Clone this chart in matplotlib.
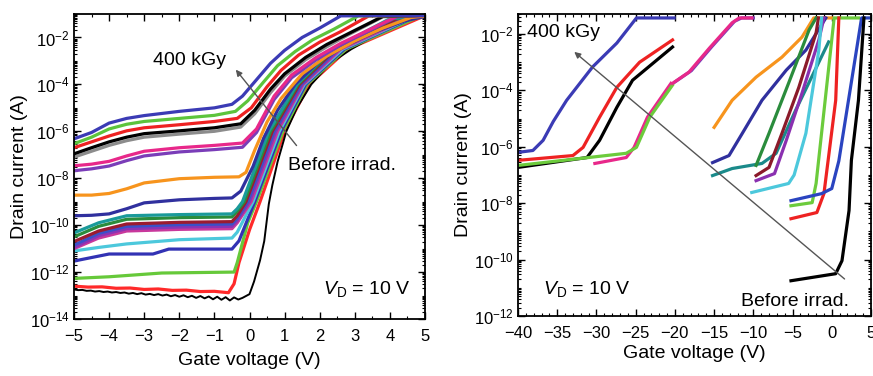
import matplotlib
matplotlib.use("Agg")
import matplotlib.pyplot as plt
import numpy as np
from matplotlib.ticker import LogLocator, MultipleLocator, NullFormatter

plt.rcParams['font.family'] = ['Liberation Sans', 'DejaVu Sans']
plt.rcParams['mathtext.fontset'] = 'custom'
plt.rcParams['mathtext.rm'] = 'Liberation Sans'
plt.rcParams['mathtext.it'] = 'Liberation Sans:italic'

# ---- left panel: log10(drain current) vs gate voltage ----
a_blue_x = [-5, -4.5, -4, -3.5, -3, -2, -1, -0.5, -0.2, 0.2, 0.6, 1.0, 1.5, 2.0, 2.6, 5]
a_blue_y = [-6.32, -6.05, -5.65, -5.45, -5.33, -5.15, -5.0, -4.85, -4.5, -3.8, -3.1, -2.55, -2.0, -1.6, -1.08, -1.06]
a_green_x = [-5, -4.5, -4, -3.5, -3, -2, -1, -0.4, -0.05, 0.4, 0.8, 1.3, 1.8, 2.4, 3.1, 5]
a_green_y = [-6.53, -6.25, -5.9, -5.7, -5.58, -5.45, -5.32, -5.15, -4.7, -3.9, -3.2, -2.6, -2.1, -1.65, -1.08, -1.06]
a_red_x = [-5, -4.5, -4, -3.5, -3, -2, -1, -0.35, 0.05, 0.5, 0.9, 1.4, 2.0, 2.6, 3.4, 5]
a_red_y = [-6.7, -6.45, -6.2, -5.98, -5.85, -5.72, -5.58, -5.45, -5.0, -4.1, -3.4, -2.75, -2.2, -1.75, -1.08, -1.06]
a_gray_x = [-5, -4.5, -4, -3.5, -3, -2, -1, -0.25, 0.15, 0.6, 1.0, 1.6, 2.2, 2.8, 3.8, 5]
a_gray_y = [-7.1, -6.85, -6.6, -6.4, -6.25, -6.12, -6.0, -5.82, -5.25, -4.35, -3.65, -2.95, -2.4, -1.9, -1.12, -1.06]
a_black_x = [-5, -4.5, -4, -3.5, -3, -2, -1, -0.25, 0.15, 0.6, 1.0, 1.6, 2.2, 2.8, 3.8, 5]
a_black_y = [-6.96, -6.7, -6.45, -6.25, -6.1, -5.98, -5.85, -5.68, -5.1, -4.2, -3.55, -2.85, -2.3, -1.85, -1.1, -1.06]
a_purple_x = [-5, -4.5, -4, -3.5, -3, -2, -1, -0.2, 0.2, 0.7, 1.2, 1.9, 2.6, 3.3, 4.2, 5]
a_purple_y = [-7.68, -7.6, -7.48, -7.25, -7.05, -6.88, -6.78, -6.68, -6.05, -4.65, -3.72, -2.95, -2.32, -1.8, -1.12, -1.06]
a_magenta_x = [-5, -4.5, -4, -3.5, -3, -2, -1, -0.2, 0.2, 0.7, 1.2, 1.9, 2.6, 3.3, 4.2, 5]
a_magenta_y = [-7.47, -7.4, -7.28, -7.05, -6.85, -6.7, -6.6, -6.5, -5.9, -4.5, -3.6, -2.85, -2.25, -1.75, -1.1, -1.06]
a_orange_x = [-5, -4.5, -4, -3.5, -3, -2, -1, -0.3, -0.1, 0.15, 0.5, 0.9, 1.5, 2.2, 3.0, 3.8, 4.6, 5]
a_orange_y = [-8.72, -8.72, -8.65, -8.45, -8.2, -8.02, -7.96, -7.94, -7.75, -6.8, -5.6, -4.6, -3.55, -2.8, -2.15, -1.6, -1.15, -1.08]
a_navy_x = [-5, -4.5, -4, -3.5, -3, -2, -1, -0.5, -0.25, 0.1, 0.4, 0.8, 1.3, 2.0, 2.8, 3.6, 4.4, 5]
a_navy_y = [-9.6, -9.58, -9.52, -9.3, -9.05, -8.92, -8.86, -8.84, -8.55, -7.5, -6.3, -5.1, -4.0, -3.0, -2.3, -1.75, -1.3, -1.1]

# cluster near 1e-10 .. 1e-11
a_teal_x = [-5, -4.3, -3.5, -2, -0.5, -0.35, -0.2, 0.55, 1.35, 2.35, 4.0, 5]
a_teal_y = [-10.33, -9.9, -9.6, -9.55, -9.52, -9.3, -9.0, -6.0, -4.0, -2.5, -1.2, -1.08]
a_dkgreen_x = [-5, -4.3, -3.5, -2, -0.5, -0.35, -0.15, 0.6, 1.38, 2.4, 4.1, 5]
a_dkgreen_y = [-10.5, -10.05, -9.75, -9.68, -9.65, -9.4, -9.0, -6.0, -4.0, -2.5, -1.2, -1.08]
a_maroon_x = [-5, -4.3, -3.5, -2, -0.5, -0.35, -0.1, 0.65, 1.42, 2.45, 4.2, 5]
a_maroon_y = [-10.7, -10.25, -9.95, -9.88, -9.85, -9.6, -9.0, -6.0, -4.0, -2.5, -1.2, -1.08]
a_blue2_x = [-5, -4.3, -3.5, -2, -0.5, -0.35, -0.05, 0.7, 1.46, 2.5, 4.3, 5]
a_blue2_y = [-10.85, -10.35, -10.05, -9.98, -9.95, -9.7, -9.0, -6.0, -4.0, -2.5, -1.2, -1.08]
a_purple2_x = [-5, -4.3, -3.5, -2, -0.5, -0.35, 0.0, 0.75, 1.5, 2.55, 4.4, 5]
a_purple2_y = [-10.95, -10.45, -10.15, -10.08, -10.05, -9.8, -9.0, -6.0, -4.0, -2.5, -1.2, -1.08]
a_magenta2_x = [-5, -4.3, -3.5, -2, -0.5, -0.35, 0.05, 0.8, 1.53, 2.6, 4.5, 5]
a_magenta2_y = [-11.0, -10.55, -10.25, -10.18, -10.15, -9.9, -9.0, -6.0, -4.0, -2.5, -1.2, -1.08]
a_cyan_x = [-5, -4.3, -3.5, -2, -0.5, -0.35, 0.1, 0.85, 1.56, 2.65, 4.55, 5]
a_cyan_y = [-11.1, -10.95, -10.8, -10.62, -10.55, -10.3, -9.0, -6.0, -4.0, -2.5, -1.2, -1.08]
a_blue3_x = [-5, -4, -2.75, -2.3, -0.5, -0.3, 0.15, 0.9, 1.6, 2.7, 4.6, 5]
a_blue3_y = [-11.53, -11.23, -11.23, -11.02, -11.02, -10.67, -9.0, -6.0, -4.0, -2.5, -1.2, -1.08]
a_green3_x = [-5, -4, -2.5, -0.44, -0.35, -0.05, 0.2, 0.95, 1.64, 2.75, 4.7, 5]
a_green3_y = [-12.27, -12.2, -12.04, -12.0, -11.6, -9.9, -9.0, -6.0, -4.0, -2.5, -1.2, -1.08]
a_red3_x = [-5, -4.6, -4.2, -3.8, -3.4, -3.0, -2.6, -2.2, -1.8, -1.4, -1.0, -0.6, -0.44, -0.3, 0.0, 0.3, 1.0, 1.7, 2.8, 4.8, 5]
a_red3_y = [-12.6, -12.64, -12.63, -12.69, -12.68, -12.74, -12.72, -12.78, -12.77, -12.83, -12.82, -12.88, -12.5, -11.6, -10.2, -9.0, -6.0, -4.0, -2.5, -1.2, -1.08]
a_before_x = [-5.0, -4.88, -4.76, -4.64, -4.52, -4.4, -4.28, -4.16, -4.04, -3.92, -3.8, -3.68, -3.56, -3.44,
              -3.32, -3.2, -3.08, -2.96, -2.84, -2.72, -2.6, -2.48, -2.36, -2.24, -2.12, -2.0, -1.88, -1.76,
              -1.64, -1.52, -1.4, -1.28, -1.16, -1.04, -0.92, -0.8, -0.68, -0.56, -0.44, -0.32, -0.2,
              0.0, 0.13, 0.3, 0.42, 0.55, 0.65, 0.8, 1.05, 1.35, 1.76, 2.3, 2.9, 3.6, 4.3, 5.0]
a_before_y = [-12.74, -12.77, -12.76, -12.8, -12.79, -12.83, -12.81, -12.85, -12.83, -12.87, -12.85, -12.89, -12.87, -12.92,
              -12.89, -12.94, -12.9, -12.96, -12.93, -12.98, -12.94, -13.0, -12.96, -13.03, -12.98, -13.05, -12.99, -13.07,
              -13.01, -13.1, -13.02, -13.12, -13.04, -13.16, -13.05, -13.18, -13.07, -13.21, -13.08, -13.17, -13.1,
              -12.94, -12.4, -11.5, -10.68, -9.1, -8.3, -7.3, -6.0, -5.0, -4.0, -3.1, -2.5, -1.9, -1.4, -1.08]

# ---- right panel ----
b_blue_x = [-40.1, -38.1, -36.8, -35.5, -33.8, -30.5, -27.4, -24.9, -20.1]
b_blue_y = [-6.2, -6.13, -5.77, -5.1, -4.35, -3.17, -2.32, -1.43, -1.43]
b_red_x = [-40, -33.0, -31.7, -29.6, -27.4, -24.5, -20.3]
b_red_y = [-6.48, -6.31, -6.02, -4.95, -3.89, -3.0, -2.21]
b_black_x = [-40, -31.2, -29.6, -27.4, -25.4, -20.3]
b_black_y = [-6.73, -6.38, -5.77, -4.6, -3.64, -2.46]
b_magenta_x = [-30.2, -26.2, -25.2, -23.5, -20.5]
b_magenta_y = [-6.59, -6.38, -6.02, -4.95, -3.75]
b_green_x = [-40, -26.2, -24.9, -23.2, -20.3]
b_green_y = [-6.66, -6.23, -6.02, -4.95, -3.81]
b_purple_x = [-20.0, -17.9, -15.3, -12.4, -11.5, -10.0]
b_purple_y = [-3.7, -3.3, -2.45, -1.55, -1.43, -1.43]
b_pink_x = [-20.3, -18.2, -15.6, -12.7, -11.8, -10.2]
b_pink_y = [-3.75, -3.35, -2.5, -1.6, -1.43, -1.43]
b_orange_x = [-15.0, -12.7, -9.65, -6.35, -3.8, -2.3, 0.0]
b_orange_y = [-5.31, -4.35, -3.53, -2.82, -2.11, -1.43, -1.43]
b_navy_x = [-15.2, -13.1, -11.4, -8.9, -5.8, -3.3, -0.76]
b_navy_y = [-6.56, -6.31, -5.52, -4.35, -3.28, -2.57, -1.43]
b_teal_x = [-15.2, -12.7, -8.9, -7.1, -4.6, -0.4]
b_teal_y = [-7.02, -6.77, -6.59, -6.23, -4.7, -2.28]
b_dkgreen_x = [-9.65, -8.0, -5.5, -2.9, -2.0]
b_dkgreen_y = [-6.66, -5.52, -3.74, -1.86, -1.43]
b_maroon_x = [-9.65, -8.0, -6.35, -4.2, -2.0, -1.7]
b_maroon_y = [-7.02, -6.73, -5.52, -3.89, -1.96, -1.43]
b_violet_x = [-9.65, -7.3, -5.8, -3.8, -1.65, -1.0]
b_violet_y = [-7.2, -6.95, -5.77, -4.1, -2.21, -1.43]
b_cyan_x = [-10.2, -5.5, -4.8, -3.3, -1.65, -1.3]
b_cyan_y = [-7.62, -7.3, -7.0, -5.52, -2.57, -1.43]
b_blue2_x = [-5.2, -1.3, 0.0, 0.9, 3.8, 5.0]
b_blue2_y = [-7.91, -7.66, -7.48, -6.5, -1.43, -1.43]
b_green2_x = [-5.2, -2.5, -2.0, 0.3, 3.4]
b_green2_y = [-8.09, -7.98, -7.3, -1.43, -1.43]
b_red2_x = [-5.2, -1.9, -1.0, 0.5, 0.9]
b_red2_y = [-8.55, -8.33, -7.66, -4.35, -1.43]
b_before_x = [-5.2, 0.5, 1.3, 2.2, 2.5, 3.4, 4.1]
b_before_y = [-10.75, -10.5, -10.04, -8.26, -6.48, -4.35, -1.43]

left_curves = [
    (a_red3_x, a_red3_y, '#ff2a2a'), (a_before_x, a_before_y, 'black'),
    (a_green3_x, a_green3_y, '#66c93a'), (a_blue3_x, a_blue3_y, '#3232b4'),
    (a_cyan_x, a_cyan_y, '#4cc8dc'), (a_magenta2_x, a_magenta2_y, '#c8389c'),
    (a_purple2_x, a_purple2_y, '#8a34b4'), (a_blue2_x, a_blue2_y, '#3a50c8'),
    (a_maroon_x, a_maroon_y, '#9b1b30'), (a_dkgreen_x, a_dkgreen_y, '#2a8c3c'),
    (a_teal_x, a_teal_y, '#1a9a9a'), (a_navy_x, a_navy_y, '#30309e'),
    (a_orange_x, a_orange_y, '#f7941d'), (a_purple_x, a_purple_y, '#7a3db8'),
    (a_magenta_x, a_magenta_y, '#e8288a'), (a_gray_x, a_gray_y, '#8c8c8c'),
    (a_black_x, a_black_y, 'black'), (a_red_x, a_red_y, '#ee2222'),
    (a_green_x, a_green_y, '#5cc43c'), (a_blue_x, a_blue_y, '#3b3bb5'),
]
right_curves = [
    (b_blue_x, b_blue_y, '#3b3bb5'), (b_black_x, b_black_y, 'black'),
    (b_red_x, b_red_y, '#ee2222'), (b_magenta_x, b_magenta_y, '#e8288a'),
    (b_green_x, b_green_y, '#6ccb3c'), (b_purple_x, b_purple_y, '#7a3db8'),
    (b_pink_x, b_pink_y, '#e8288a'), (b_orange_x, b_orange_y, '#f7941d'),
    (b_navy_x, b_navy_y, '#30309e'), (b_teal_x, b_teal_y, '#1a8a8a'),
    (b_dkgreen_x, b_dkgreen_y, '#2a8c3c'), (b_maroon_x, b_maroon_y, '#8b1a2a'),
    (b_violet_x, b_violet_y, '#8a30b0'), (b_cyan_x, b_cyan_y, '#4cc8dc'),
    (b_green2_x, b_green2_y, '#6ccb3c'), (b_red2_x, b_red2_y, '#ee2222'),
    (b_blue2_x, b_blue2_y, '#2a44c0'), (b_before_x, b_before_y, 'black'),
]

fig = plt.figure(figsize=(8.73, 3.76), dpi=100)
ax1 = fig.add_axes([74 / 873, 1 - 319 / 376, 351 / 873, 305 / 376])
ax2 = fig.add_axes([518 / 873, 1 - 316 / 376, 353 / 873, 302 / 376])

for x, y, c in left_curves:
    lw = 1.4 if c == 'black' and len(x) > 40 else 2.3
    ax1.plot(x, 10.0 ** np.array(y), color=c, lw=lw, solid_joinstyle='round')
for x, y, c in right_curves:
    ax2.plot(x, 10.0 ** np.array(y), color=c, lw=2.3, solid_joinstyle='round')

for ax in (ax1, ax2):
    ax.set_yscale('log')
    ax.tick_params(which='both', direction='in', top=True, right=True, labelsize=12)
    ax.tick_params(which='major', length=5, width=1)
    ax.tick_params(axis='x', which='major', pad=7)
    ax.tick_params(axis='y', which='major', pad=3)
    ax.tick_params(which='minor', length=2.5, width=0.8)
    ax.yaxis.set_minor_locator(LogLocator(base=10, subs=np.arange(1, 10), numticks=100))
    ax.yaxis.set_minor_formatter(NullFormatter())
    for s in ax.spines.values():
        s.set_linewidth(1.3)
    ax.set_ylabel('Drain current (A)', fontsize=14, labelpad=1)

ax1.set_xlabel('Gate voltage (V)', fontsize=14, labelpad=6)
ax2.set_xlabel('Gate voltage (V)', fontsize=14, labelpad=3)

ax1.set_xlim(-5, 5)
ax1.set_ylim(1e-14, 1e-1)
ax1.set_xticks(np.arange(-5, 6, 1))
ax1.xaxis.set_minor_locator(MultipleLocator(0.5))
ax1.set_yticks(10.0 ** np.arange(-14, -1, 2))
ax1.text(-2.74, 10 ** -2.98, '400 kGy', fontsize=14, va='center', ha='left')
ax1.text(1.1, 10 ** -7.47, 'Before irrad.', fontsize=14, va='center', ha='left')
ax1.text(2.1, 10 ** -12.73, r'$V_{\mathrm{D}}$ = 10 V', fontsize=14, va='center', ha='left')
ax1.annotate('', xy=(-0.44, 10 ** -3.28), xytext=(1.39, 10 ** -6.7),
             arrowprops=dict(arrowstyle='-|>', color='#555555', lw=1.0, mutation_scale=9))

ax2.set_xlim(-40, 5)
ax2.set_ylim(1e-12, 10 ** -1.29)
ax2.set_xticks(np.arange(-40, 6, 5))
ax2.xaxis.set_minor_locator(MultipleLocator(1))
ax2.set_yticks(10.0 ** np.arange(-12, -1, 2))
ax2.text(-38.9, 10 ** -1.96, '400 kGy', fontsize=14, va='center', ha='left')
ax2.text(2.2, 10 ** -11.47, 'Before irrad.', fontsize=14, va='center', ha='right')
ax2.text(-36.8, 10 ** -11.04, r'$V_{\mathrm{D}}$ = 10 V', fontsize=14, va='center', ha='left')
ax2.annotate('', xy=(-33.1, 10 ** -2.57), xytext=(1.9, 10 ** -10.75),
             arrowprops=dict(arrowstyle='-|>', color='#555555', lw=1.0, mutation_scale=9))

fig.savefig('out.png', dpi=100)
